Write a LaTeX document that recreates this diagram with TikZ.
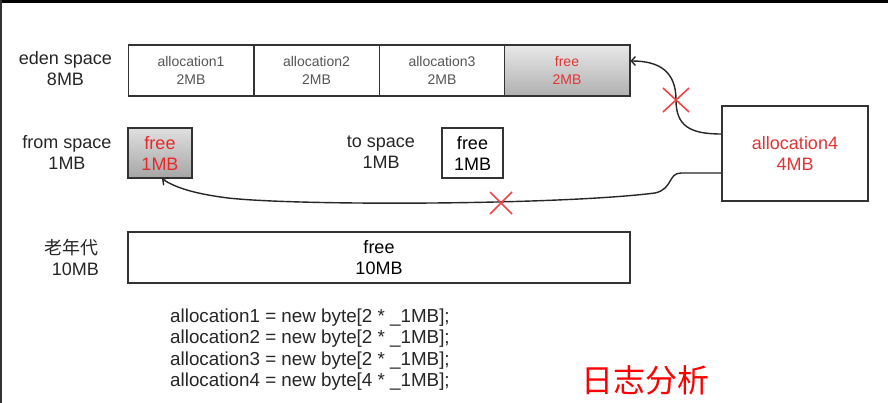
\documentclass[tikz,border=0pt]{standalone}
\usepackage{fontspec}
\setmainfont{Liberation Sans}
\newfontfamily\cjk{Noto Sans CJK SC}
\usetikzlibrary{arrows.meta,calc}
\definecolor{edge}{HTML}{333333}
\definecolor{celltext}{HTML}{555555}
\definecolor{redtxt}{HTML}{E03535}
\definecolor{fromred}{HTML}{E82828}
\definecolor{xred}{HTML}{F04545}
\tikzset{
  box/.style={draw=edge, line width=1.5pt, fill=white, inner sep=0pt, align=center},
  cell/.style={box, minimum width=125.5pt, minimum height=51pt, text=celltext, font=\fontsize{14}{18}\selectfont},
  lbl/.style={align=center, inner sep=0pt, font=\fontsize{18}{21}\selectfont, text=black!85},
  freeshade/.style={top color=gray!18, bottom color=gray!62},
  conn/.style={draw=black!85, line width=1.4pt, -{Straight Barb[length=4pt,width=9pt,line width=1.4pt]}},
  xmark/.style={draw=xred, line width=1.6pt}
}
\begin{document}
\begin{tikzpicture}[x=1pt,y=-1pt]
\useasboundingbox (0,0) rectangle (888,403);
\fill[white] (0,0) rectangle (888,403);
\fill[black] (0,0) rectangle (888,3);
\fill[black!80] (0,0) rectangle (2,403);

% eden space
\node[lbl] (edenl) at (65.5,69) {eden space\\8MB};
\node[cell] (c1) at (191,70.5) {allocation1\\2MB};
\node[cell] (c2) at (316.5,70.5) {allocation2\\2MB};
\node[cell] (c3) at (442,70.5) {allocation3\\2MB};
\node[cell, freeshade, text=redtxt] (fr) at (567,70.5) {free\\2MB};

% survivor spaces
\node[lbl] (froml) at (67,152.5) {from space\\1MB};
\node[box, freeshade, top color=gray!25, bottom color=gray!70, minimum width=64pt, minimum height=50pt,
      text=fromred, font=\fontsize{18}{21}\selectfont] (from) at (160,153) {free\\1MB};
\node[lbl] (tol) at (381,152.5) {to space\\1MB};
\node[box, minimum width=61pt, minimum height=50pt, font=\fontsize{18}{21}\selectfont] (to) at (472.5,153) {free\\1MB};

% allocation4
\node[box, minimum width=146pt, minimum height=95pt, text=redtxt, font=\fontsize{18}{21}\selectfont] (a4) at (795,153.5) {allocation4\\4MB};

% old generation
\node[lbl, align=right, anchor=east] (oldl) at (99,257) {{\cjk 老年代}\\10MB};
\node[box, minimum width=502pt, minimum height=51pt, font=\fontsize{18}{21}\selectfont] (old) at (379,257.5) {free\\10MB};

% code
\node[align=left, anchor=west, inner sep=0pt, text=black!85, font=\fontsize{18.8}{21.4}\selectfont] (code) at (170,349.5)
 {allocation1 = new byte[2 * \_1MB];\\allocation2 = new byte[2 * \_1MB];\\allocation3 = new byte[2 * \_1MB];\\allocation4 = new byte[4 * \_1MB];};

% title
\node[text=red, inner sep=0pt, font=\cjk\fontsize{32}{36}\selectfont] (title) at (645,380) {日志分析};

% connectors
\draw[conn] ([yshift=19.5pt]a4.west) .. controls (690,134) and (676,126) .. (676,100)
            .. controls (676,72) and (660,61) .. ([yshift=9.5pt]fr.east);
\draw[conn] ([yshift=-19.5pt]a4.west) -- (681,173) .. controls (668,173) and (673,189) .. (655,193)
            .. controls (560,205) and (300,206) .. (228,198)
            .. controls (196,194) and (176,188) .. ([xshift=2pt]from.south);

% red crosses
\draw[xmark] (663,88) -- (689,112) (663,112) -- (689,88);
\draw[xmark] (490,192) -- (512,214) (490,214) -- (512,192);
\end{tikzpicture}
\end{document}
